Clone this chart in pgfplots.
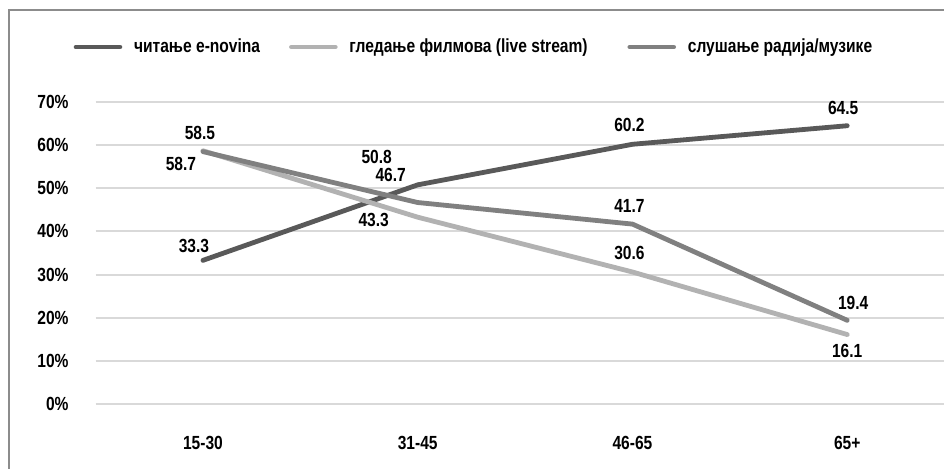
\documentclass[border=0pt]{standalone}
\usepackage{fontspec}
\setmainfont{Liberation Sans}[FakeStretch=0.82]
\usepackage{pgfplots}
\pgfplotsset{compat=1.18}
\definecolor{cA}{HTML}{595959}
\definecolor{cB}{HTML}{B2B2B2}
\definecolor{cC}{HTML}{808080}
\definecolor{gridc}{HTML}{D9D9D9}
\definecolor{framec}{HTML}{8C8C8C}
\begin{document}
\begin{tikzpicture}[font=\fontsize{9.5}{11}\selectfont\bfseries]
\clip (0,0) rectangle (472pt,234pt);
\fill[white] (0,0) rectangle (472pt,234pt);
\draw[framec, line width=1pt] (4.5pt,-5pt) -- (4.5pt,229pt) -- (480pt,229pt);
\begin{axis}[
  at={(47.8pt,32pt)}, anchor=south west,
  scale only axis, width=429.5pt, height=151pt,
  xmin=-0.5, xmax=3.5, ymin=0, ymax=70,
  axis line style={draw=none}, tick style={draw=none},
  major tick length=0pt,
  ymajorgrids, grid style={gridc, line width=1pt},
  ytick={0,10,...,70},
  yticklabel={\pgfmathprintnumber{\tick}\%},
  /pgf/number format/assume math mode=true,
  yticklabel style={anchor=east, inner sep=0pt, xshift=-13.3pt},
  xtick={0,1,2,3},
  xticklabels={15-30,31-45,46-65,65+},
  xticklabel style={anchor=center, inner sep=0pt, yshift=-19.5pt},
  clip=false,
  legend columns=3,
  legend style={at={(-0.026,1.182)}, anchor=west, draw=none, fill=none,
    inner sep=0pt, column sep=0pt, nodes={inner sep=0pt, anchor=west}},
  legend image code/.code={\draw[#1, line width=2.4pt, line cap=round] (1.2pt,0pt) -- (23.1pt,0pt); \path (29pt,0pt);},
]
\addplot[cA, line width=2.4pt, line cap=round, line join=round] coordinates {(0,33.3) (1,50.8) (2,60.2) (3,64.5)};
\addlegendentry{\makebox[77.5pt][l]{читање e-novina}}
\addplot[cB, line width=2.4pt, line cap=round, line join=round] coordinates {(0,58.7) (1,43.3) (2,30.6) (3,16.1)};
\addlegendentry{\makebox[139pt][l]{гледање филмова (live stream)}}
\addplot[cC, line width=2.4pt, line cap=round, line join=round] coordinates {(0,58.5) (1,46.7) (2,41.7) (3,19.4)};
\addlegendentry{слушање радија/музике}
\node[xshift=-4.5pt, yshift=7pt] at (axis cs:0,33.3) {33.3};
\node[xshift=-1.5pt, yshift=9.5pt] at (axis cs:0,58.5) {58.5};
\node[xshift=-11pt, yshift=-6.5pt] at (axis cs:0,58.7) {58.7};
\node[xshift=-20.5pt, yshift=14pt] at (axis cs:1,50.8) {50.8};
\node[xshift=-13.5pt, yshift=13.75pt] at (axis cs:1,46.7) {46.7};
\node[xshift=-22pt, yshift=-1.5pt] at (axis cs:1,43.3) {43.3};
\node[xshift=-1.5pt, yshift=9.5pt] at (axis cs:2,60.2) {60.2};
\node[xshift=-1.5pt, yshift=9pt] at (axis cs:2,41.7) {41.7};
\node[xshift=-1.5pt, yshift=9.5pt] at (axis cs:2,30.6) {30.6};
\node[xshift=-2pt, yshift=9pt] at (axis cs:3,64.5) {64.5};
\node[xshift=3pt, yshift=8.5pt] at (axis cs:3,19.4) {19.4};
\node[xshift=0pt, yshift=-8pt] at (axis cs:3,16.1) {16.1};
\end{axis}
\end{tikzpicture}
\end{document}
